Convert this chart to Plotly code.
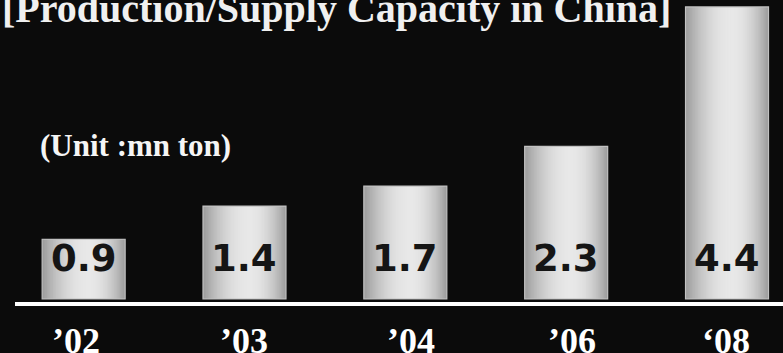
import plotly.graph_objects as go

# Data
years = ["\u201902", "\u201903", "\u201904", "\u201906", "\u201808"]
capacity = [0.9, 1.4, 1.7, 2.3, 4.4]
title_text = "[Production/Supply Capacity in China]"
unit_text = "(Unit :mn ton)"

W, H = 783, 353
BOTTOM = 47
PLOT_H = H - BOTTOM
BG = "#0b0b0b"

fig = go.Figure()

# Metallic look: nested overlay bars, each narrower and lighter than the
# one beneath it, converging on a highlight slightly right of centre.
bar_w = 0.516
n_layers = 30
peak = 0.56
for k in range(n_layers):
    edge = k / n_layers
    left = edge * peak
    right = 1 - edge * (1 - peak)
    s = (k + 0.5) / n_layers
    level = int(round(154 + 78 * (1 - (1 - s) ** 2)))
    col = f"rgb({level},{level},{level})"
    fig.add_trace(go.Bar(
        x=years, y=capacity,
        width=bar_w * (right - left), offset=-bar_w / 2 + bar_w * left,
        marker=dict(color=col, line=dict(width=0)),
        hoverinfo="skip", showlegend=False,
    ))

fig.add_trace(go.Bar(
    x=years, y=capacity, width=bar_w, offset=-bar_w / 2,
    marker=dict(color="rgba(0,0,0,0)", line=dict(color="#c2c2c2", width=1.2)),
    hoverinfo="skip", showlegend=False,
))

annotations = []
# value labels sitting near the foot of each bar
for yr, v in zip(years, capacity):
    annotations.append(dict(
        x=yr, xref="x", y=(PLOT_H - 258) / PLOT_H, yref="paper",
        text=f"{v:.1f}", showarrow=False, xanchor="center", yanchor="middle",
        font=dict(family="DejaVu Sans", size=37, color="#151515", weight="bold"),
    ))
# year labels under the baseline (small hand-set nudges)
label_shift = [-8, 0, 6, 6, -1]
for yr, dx in zip(years, label_shift):
    annotations.append(dict(
        x=yr, xref="x", y=(PLOT_H - 341) / PLOT_H, yref="paper", xshift=dx,
        text=yr, showarrow=False, xanchor="center", yanchor="middle",
        font=dict(family="Liberation Serif", size=36, color="#ffffff", weight="bold"),
    ))
annotations.append(dict(
    x=0, xref="paper", y=(PLOT_H - 8) / PLOT_H, yref="paper",
    text=title_text, showarrow=False, xanchor="left", yanchor="middle",
    font=dict(family="Liberation Serif", size=40, color="#f0f0f0", weight="bold"),
))
annotations.append(dict(
    x=38 / W, xref="paper", y=(PLOT_H - 145) / PLOT_H, yref="paper",
    text=unit_text, showarrow=False, xanchor="left", yanchor="middle",
    font=dict(family="Liberation Serif", size=31, color="#f5f5f5", weight="bold"),
))

fig.update_layout(
    width=W, height=H,
    margin=dict(l=0, r=0, t=0, b=BOTTOM),
    paper_bgcolor=BG, plot_bgcolor=BG,
    barmode="overlay",
    xaxis=dict(type="category", range=[-0.52, 4.348], visible=False, fixedrange=True),
    yaxis=dict(range=[-0.1055, 4.505], visible=False, fixedrange=True),
    annotations=annotations,
    shapes=[dict(type="rect", xref="paper", yref="paper",
                 x0=15 / W, x1=1, y0=0, y1=4 / PLOT_H,
                 fillcolor="#ffffff", line=dict(width=0))],
)

fig.write_html("out.html")
